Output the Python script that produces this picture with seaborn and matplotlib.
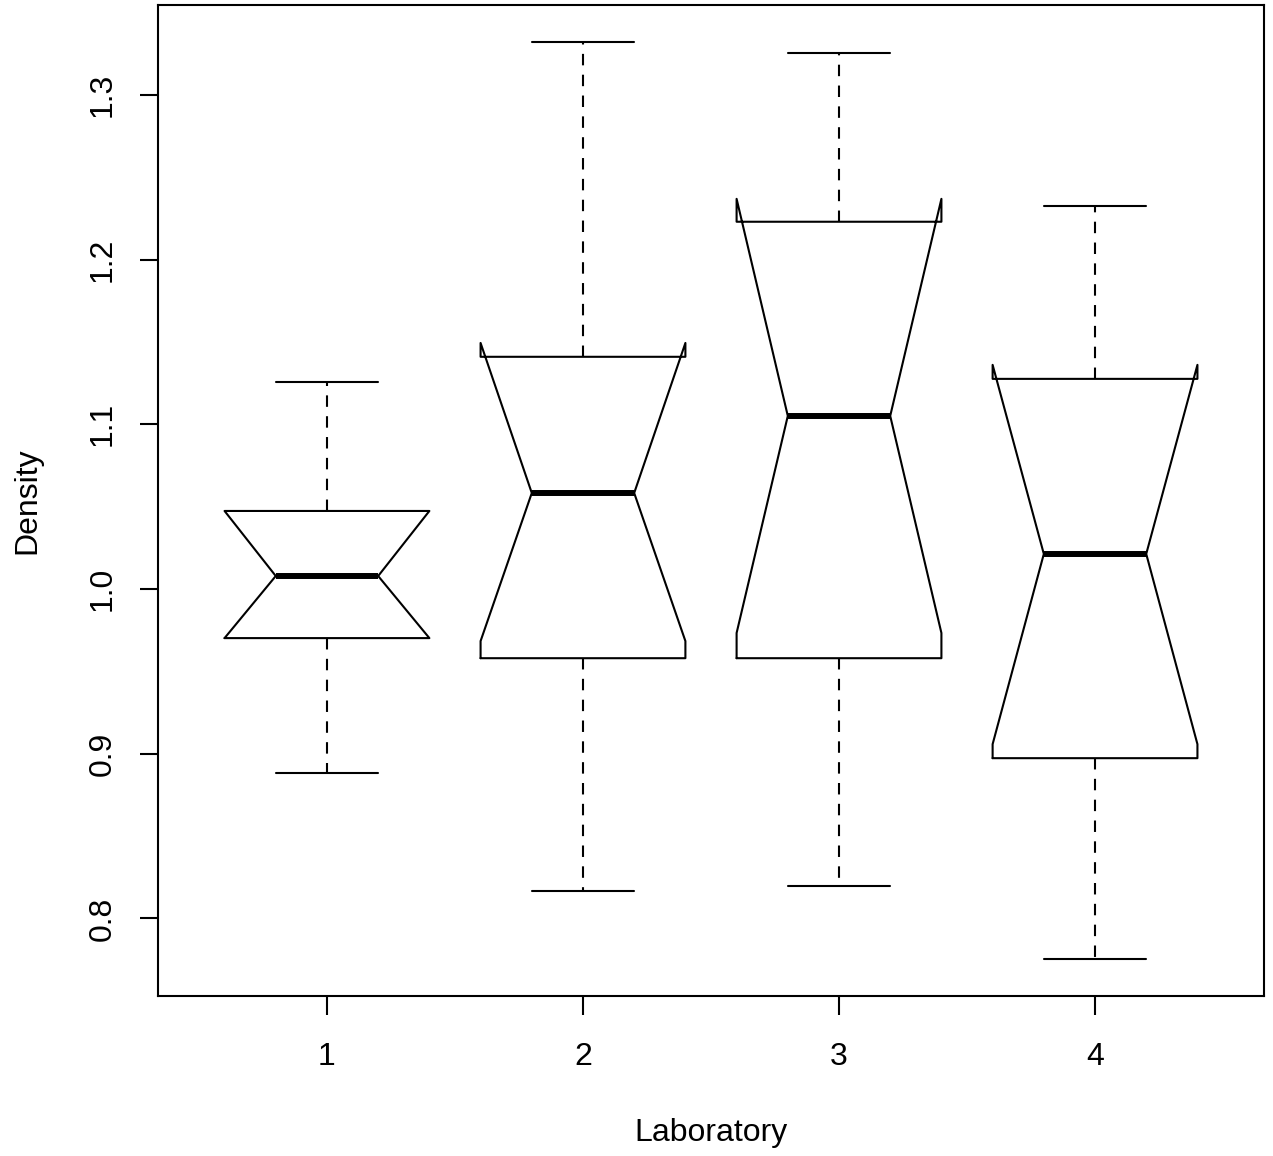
import matplotlib
matplotlib.use("Agg")
import matplotlib.pyplot as plt
import seaborn as sns

# values (notched boxplot, one box per laboratory)
labs = ["1", "2", "3", "4"]
whislo = [0.888, 0.8165, 0.8196, 0.7752]
q1 = [0.9702, 0.958, 0.958, 0.8973]
med = [1.0079, 1.0583, 1.1051, 1.0213]
q3 = [1.0474, 1.141, 1.223, 1.1276]
whishi = [1.1258, 1.3323, 1.3256, 1.2327]
cilo = [0.9702, 0.9684, 0.9733, 0.9058]
cihi = [1.0474, 1.1494, 1.2369, 1.1361]
yticks = [0.8, 0.9, 1.0, 1.1, 1.2, 1.3]

sns.set_theme(style="ticks")
plt.rcParams['font.family'] = ['Liberation Sans', 'DejaVu Sans']
plt.rcParams.update({"text.color": "black", "axes.labelcolor": "black",
                     "xtick.color": "black", "ytick.color": "black"})

stats = []
for i in range(len(labs)):
    stats.append(dict(label=labs[i], whislo=whislo[i], q1=q1[i], med=med[i],
                      q3=q3[i], whishi=whishi[i], cilo=cilo[i], cihi=cihi[i],
                      fliers=[]))

fig = plt.figure(figsize=(12.73, 11.56), dpi=100)
ax = fig.add_axes([158/1273, 1 - 996/1156, 1106/1273, 991/1156])

lw = 1.5
ax.bxp(stats, positions=[1, 2, 3, 4], widths=0.8, capwidths=0.4, shownotches=True,
       showfliers=False,
       boxprops=dict(color="black", linewidth=lw),
       whiskerprops=dict(color="black", linewidth=lw, linestyle=(0, (5.5, 4.5))),
       capprops=dict(color="black", linewidth=lw),
       medianprops=dict(color="black", linewidth=4.3, solid_capstyle="butt"))

ax.set_xlim(0.34, 4.66)
ax.set_ylim(0.7529, 1.3546)
ax.set_xticks([1, 2, 3, 4])
ax.set_xticklabels(labs)
ax.set_yticks(yticks)
ax.set_yticklabels([f"{v:.1f}" for v in yticks])
plt.setp(ax.get_yticklabels(), rotation=90, va="center")
ax.tick_params(axis="x", length=14, width=lw, labelsize=23, pad=19, colors="black")
ax.tick_params(axis="y", length=13, width=lw, labelsize=23, pad=16, colors="black")

for s in ax.spines.values():
    s.set_visible(True)
    s.set_linewidth(lw)
    s.set_color("black")

ax.set_xlabel("Laboratory", fontsize=23)
ax.set_ylabel("Density", fontsize=23)
ax.xaxis.set_label_coords(0.5, -137/991)
ax.xaxis.label.set_va("center")
ax.yaxis.set_label_coords(-131/1106, 0.5)
ax.yaxis.label.set_va("center")

fig.savefig("out.png", dpi=100, facecolor="white")
